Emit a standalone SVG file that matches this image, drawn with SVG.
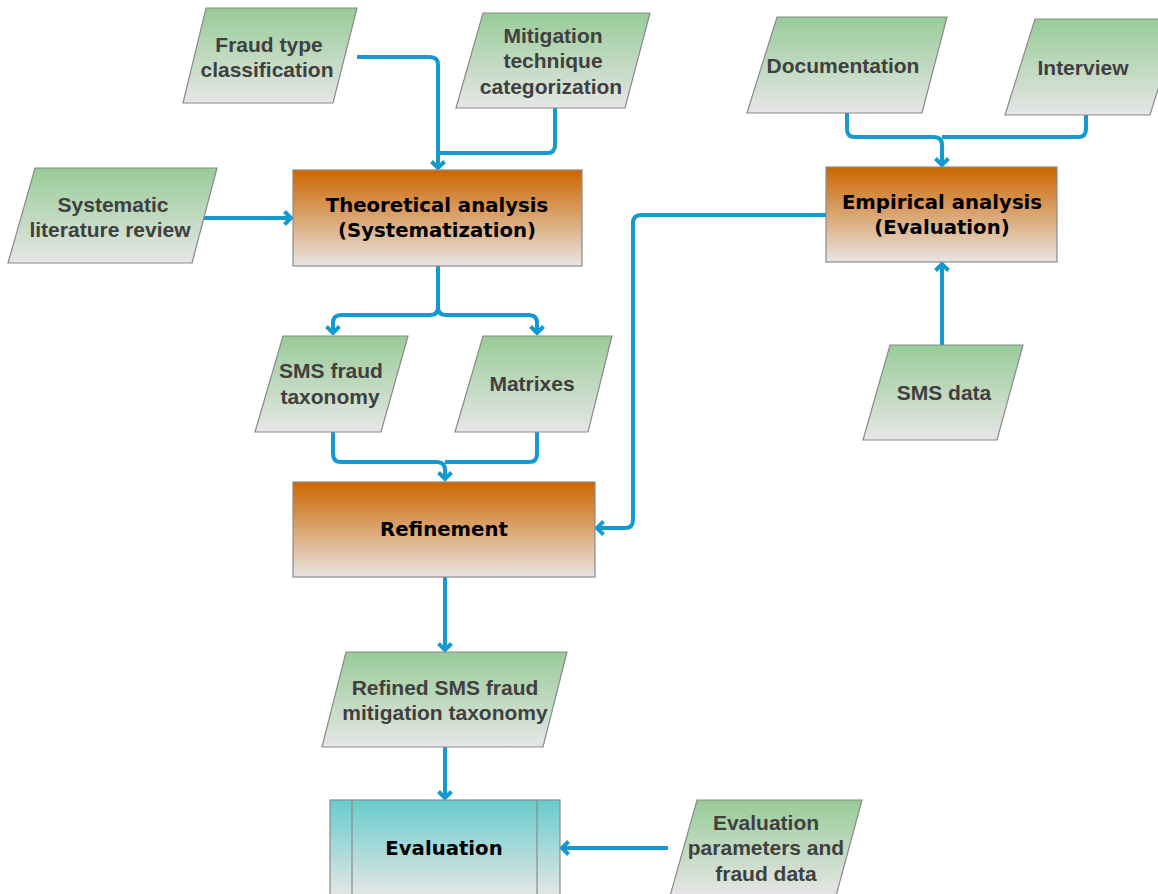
<svg xmlns="http://www.w3.org/2000/svg" width="1158" height="894" viewBox="0 0 1158 894">
  <style>
    .data { stroke: #8a8a8a; stroke-width: 1.2; fill: url(#gGreen); }
    .proc { stroke: #8a8a8a; stroke-width: 1.2; fill: url(#gOrange); }
    .eval { stroke: #8a8a8a; stroke-width: 1.2; fill: url(#gTeal); }
    .dt { font-family: "Liberation Sans", Arial, sans-serif; font-weight: bold; font-size: 21px; fill: #404040; text-anchor: middle; }
    .pt { font-family: "DejaVu Sans", Verdana, sans-serif; font-weight: bold; font-size: 19.7px; fill: #000; text-anchor: middle; }
    .conn path { fill: none; stroke: #1499d0; stroke-width: 4; }
  </style>
  <defs>
    <linearGradient id="gGreen" x1="0" y1="0" x2="0" y2="1">
      <stop offset="0" stop-color="#98cc98"/>
      <stop offset="1" stop-color="#e6e6e6"/>
    </linearGradient>
    <linearGradient id="gOrange" x1="0" y1="0" x2="0" y2="1">
      <stop offset="0" stop-color="#cc6600"/>
      <stop offset="1" stop-color="#e8e4e2"/>
    </linearGradient>
    <linearGradient id="gTeal" x1="0" y1="0" x2="0" y2="1">
      <stop offset="0" stop-color="#66cccc"/>
      <stop offset="1" stop-color="#e6e6e6"/>
    </linearGradient>
    <marker id="chev" markerUnits="userSpaceOnUse" markerWidth="18" markerHeight="18" refX="9" refY="9" orient="auto" overflow="visible">
      <path d="M2.5,2.5 L9,9 L2.5,15.5" fill="none" stroke="#1499d0" stroke-width="4"/>
    </marker>
  </defs>

  <rect width="1158" height="894" fill="#ffffff"/>

  <!-- connectors -->
  <g id="connectors" class="conn">
    <path d="M357,57 H430 Q438,57 438,65 V168" marker-end="url(#chev)"/>
    <path d="M555,108 V145 Q555,153 547,153 H438"/>
    <path d="M200,218 H291" marker-end="url(#chev)"/>
    <path d="M438,266 V307 Q438,315 430,315 H341 Q333,315 333,323 V333" marker-end="url(#chev)"/>
    <path d="M438,307 Q438,315 446,315 H529 Q537,315 537,323 V333" marker-end="url(#chev)"/>
    <path d="M333,432 V454 Q333,462 341,462 H437 Q445,462 445,470 V479" marker-end="url(#chev)"/>
    <path d="M537,432 V454 Q537,462 529,462 H445"/>
    <path d="M847,113 V129 Q847,137 855,137 H934 Q942,137 942,145 V165" marker-end="url(#chev)"/>
    <path d="M1086,115 V129 Q1086,137 1078,137 H942"/>
    <path d="M942,345 V264" marker-end="url(#chev)"/>
    <path d="M826,215 H641 Q633,215 633,223 V520 Q633,528 625,528 H597" marker-end="url(#chev)"/>
    <path d="M445,577 V650" marker-end="url(#chev)"/>
    <path d="M445,747 V798" marker-end="url(#chev)"/>
    <path d="M668,848 H562" marker-end="url(#chev)"/>
  </g>

  <!-- input / output data -->
  <g id="fraud-type">
    <polygon class="data" points="206,8 357,8 333,103 183,103"/>
    <text class="dt" x="269" y="52">Fraud type</text>
    <text class="dt" x="267" y="77">classification</text>
  </g>
  <g id="mitigation-technique">
    <polygon class="data" points="483,13 650,13 625,108 456,108"/>
    <text class="dt" x="553" y="43">Mitigation</text>
    <text class="dt" x="553" y="68">technique</text>
    <text class="dt" x="551" y="94">categorization</text>
  </g>
  <g id="literature-review">
    <polygon class="data" points="35,168 217,168 192,263 8,263"/>
    <text class="dt" x="113" y="212">Systematic</text>
    <text class="dt" x="110" y="237">literature review</text>
  </g>
  <g id="documentation">
    <polygon class="data" points="777,17 947,17 922,113 747,113"/>
    <text class="dt" x="843" y="73">Documentation</text>
  </g>
  <g id="interview">
    <polygon class="data" points="1035,19 1180,19 1150,115 1005,115"/>
    <text class="dt" x="1083" y="75">Interview</text>
  </g>
  <g id="sms-fraud-taxonomy">
    <polygon class="data" points="283,336 408,336 381,432 255,432"/>
    <text class="dt" x="331" y="378">SMS fraud</text>
    <text class="dt" x="330" y="404">taxonomy</text>
  </g>
  <g id="matrixes">
    <polygon class="data" points="483,336 612,336 588,432 455,432"/>
    <text class="dt" x="532" y="391">Matrixes</text>
  </g>
  <g id="sms-data">
    <polygon class="data" points="890,345 1023,345 997,440 863,440"/>
    <text class="dt" x="944" y="400">SMS data</text>
  </g>
  <g id="refined-taxonomy">
    <polygon class="data" points="346,652 567,652 543,747 322,747"/>
    <text class="dt" x="445" y="695">Refined SMS fraud</text>
    <text class="dt" x="445" y="720">mitigation taxonomy</text>
  </g>
  <g id="evaluation-parameters">
    <polygon class="data" points="697,800 862,800 836,896 670,896"/>
    <text class="dt" x="766" y="830">Evaluation</text>
    <text class="dt" x="766" y="855">parameters and</text>
    <text class="dt" x="766" y="881">fraud data</text>
  </g>

  <!-- processes -->
  <g id="theoretical-analysis">
    <rect class="proc" x="293" y="170" width="289" height="96"/>
    <text class="pt" x="437" y="212">Theoretical analysis</text>
    <text class="pt" x="437" y="237">(Systematization)</text>
  </g>
  <g id="empirical-analysis">
    <rect class="proc" x="826" y="167" width="231" height="95"/>
    <text class="pt" x="942" y="209">Empirical analysis</text>
    <text class="pt" x="942" y="234">(Evaluation)</text>
  </g>
  <g id="refinement">
    <rect class="proc" x="293" y="482" width="302" height="95"/>
    <text class="pt" x="444" y="536">Refinement</text>
  </g>
  <g id="evaluation">
    <rect class="eval" x="330" y="800" width="230" height="96"/>
    <line x1="352" y1="800" x2="352" y2="896" stroke="#8a8a8a" stroke-width="1.2"/>
    <line x1="537" y1="800" x2="537" y2="896" stroke="#8a8a8a" stroke-width="1.2"/>
    <text class="pt" x="444" y="855">Evaluation</text>
  </g>
</svg>
